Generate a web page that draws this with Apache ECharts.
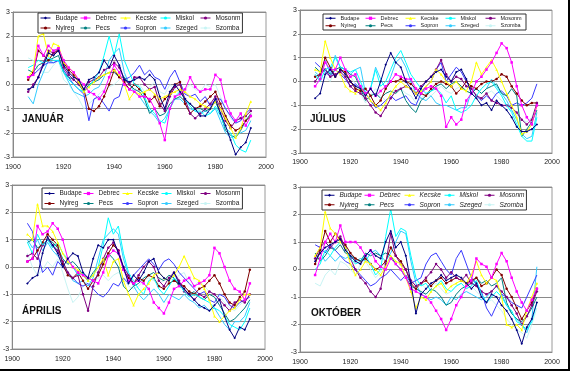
<!DOCTYPE html>
<html><head><meta charset="utf-8">
<script src="https://cdn.jsdelivr.net/npm/echarts@6/dist/echarts.min.js"></script>
<style>html,body{margin:0;padding:0;background:#fff}#c{width:570px;height:371px}</style>
</head><body><div id="c"></div>
<script>
const years = [1906,1908,1910,1912,1914,1916,1918,1920,1922,1924,1926,1928,1930,1932,1934,1936,1938,1940,1942,1944,1946,1948,1950,1952,1954,1956,1958,1960,1962,1964,1966,1968,1970,1972,1974,1976,1978,1980,1982,1984,1986,1988,1990,1992,1994];
const stations = ['Budape','Debrec','Kecske','Miskol','Mosonm','Nyireg','Pecs','Sopron','Szeged','Szomba'];
const xTicks = [1900,1920,1940,1960,1980,2000];
const yTicks = [-3,-2,-1,0,1,2,3];
const panelTitles = ['JANUÁR','JÚLIUS','ÁPRILIS','OKTÓBER'];

// JANUÁR
const janBudape = [-0.2,-0.1,0.3,0.8,1.3, 1.2,1.4,0.8,0.5,0.3, 0.2,-0.2,0.2,0.3,0.5, 1.0,0.7,1.2,0.8,0.2, 0.1,0.2,0.3,0.2,0.4, 0.2,-0.5,-1.0,-0.3,0.0, -0.3,-0.6,-0.8,-1.0,-1.3, -1.3,-1.0,-0.6,-1.2,-1.7, -2.3,-2.9,-2.6,-2.4,-1.8];
const janDebrec = [0.3,0.4,1.6,1.2,1.6, 1.4,1.5,1.0,0.7,0.5, 0.2,0.0,-0.3,-0.4,-0.6, -0.3,0.3,0.8,0.5,0.0, -0.2,-0.3,-0.5,-0.5,-0.6, -1.0,-1.6,-2.3,-1.0,-0.5, -0.4,-0.2,0.3,-0.1,-0.3, -0.2,-0.2,0.4,0.2,-0.7, -1.2,-1.5,-1.2,-1.7,-1.3];
const janKecske = [0.3,0.6,2.0,2.1,1.2, 1.7,1.6,0.9,0.7,0.5, 0.1,-0.3,-0.1,0.1,0.3, 0.4,0.5,0.6,0.4,0.0, -0.6,-0.3,-0.4,-0.3,-0.2, -0.4,-0.6,-0.5,-0.4,-0.3, -0.2,-0.3,-0.5,-0.6,-0.8, -0.9,-1.0,-0.7,-1.0,-1.4, -1.8,-2.2,-1.8,-1.2,-0.7];
const janMiskol = [0.7,0.8,1.0,0.9,1.1, 1.0,1.0,0.5,0.2,0.0, -0.2,-0.3,-0.1,0.2,0.5, 1.2,2.0,1.2,2.1,1.0, 0.5,0.0,-0.1,-0.5,-1.0, -1.2,-1.5,-1.6,-1.0,-0.5, -0.3,-0.6,-0.9,-1.1,-1.1, -1.3,-1.2,-0.9,-1.3,-1.8, -2.0,-2.5,-2.7,-2.8,-2.3];
const janMosonm = [-0.3,0.0,0.3,0.9,1.4, 1.3,1.5,0.7,0.4,0.2, 0.0,-0.2,0.1,0.2,0.3, 0.6,0.7,0.9,0.7,0.2, 0.0,0.3,0.3,0.0,-0.2, -0.1,-0.8,-1.1,-0.5,-0.1, 0.0,-0.6,-1.2,-1.4,-1.2, -1.0,-0.8,-0.5,-1.0,-1.5, -1.8,-1.5,-1.4,-1.3,-1.1];
const janNyireg = [0.2,0.5,1.4,1.2,1.0, 1.3,1.4,0.9,0.6,0.4, 0.1,-0.2,-1.0,-1.1,-0.9, -0.5,0.0,0.6,0.3,0.1, -0.2,0.0,-0.2,-0.4,-0.7, -0.5,-0.9,-0.6,-0.4,0.0, 0.1,-0.8,-1.2,-1.0,-0.9, -0.7,-0.5,-0.3,-0.8,-1.3, -1.7,-1.9,-1.8,-1.5,-1.3];
const janPecs = [0.6,0.5,0.8,0.9,1.0, 1.1,1.2,0.5,0.3,0.2, 0.0,-0.3,0.0,0.1,0.2, 0.4,0.5,0.5,0.3,0.3, 0.0,-0.2,-0.3,-0.6,-1.2, -1.0,-1.3,-1.2,-0.8,-0.6, -0.5,-0.7,-0.8,-1.0,-1.0, -1.1,-1.0,-0.7,-1.2,-1.9, -2.1,-2.2,-1.9,-1.5,-1.2];
const janSopron = [0.3,0.4,0.6,0.8,0.9, 0.9,1.0,0.6,0.3,0.0, -0.2,-0.4,-1.5,-0.6,-0.5, -0.8,-1.1,-0.6,-0.5,0.2, 0.3,0.5,0.8,0.4,0.6, 0.3,0.2,-0.2,0.3,0.6, 0.1,-0.4,-0.5,-0.4,-0.7, -0.5,-0.9,-0.6,-0.6,-1.0, -1.3,-1.6,-1.5,-1.2,-1.0];
const janSzeged = [-0.5,-0.8,0.0,0.5,1.0, 0.9,1.0,0.5,0.1,-0.3, -0.4,-0.5,-0.4,-0.2,-0.1, 0.3,1.0,1.3,1.5,0.5, 0.0,-0.3,-0.5,-0.8,-1.1, -1.3,-1.6,-1.4,-1.0,-0.6, -0.6,-0.8,-1.0,-1.1,-1.2, -1.1,-1.2,-1.0,-1.5,-2.0, -2.2,-2.1,-2.0,-1.9,-1.5];
const janSzomba = [1.1,1.0,0.6,0.5,0.5, 0.8,1.0,0.2,0.0,-0.3, -0.6,-1.0,-0.8,-0.6,-0.4, -0.2,-0.1,0.0,0.2,0.4, 0.0,-0.2,0.0,-0.3,-0.1, 0.1,-0.3,-0.4,0.0,-0.2, -0.4,-0.2,0.0,-0.2,-0.3, 0.0,-0.1,0.0,-0.5,-1.0, -1.4,-1.6,-1.3,-1.4,-1.5];

// JÚLIUS
const julBudape = [-0.7,-0.5,0.3,0.5,0.2, 0.5,0.3,0.0,-0.2,-0.3, -0.6,-0.3,-0.6,0.0,0.7, 1.2,0.8,0.6,0.0,-0.3, -0.7,-0.3,0.0,0.2,0.4, 0.5,0.2,0.0,0.4,0.5, 0.1,-0.5,-0.7,-1.0,-0.9, -1.2,-0.8,-1.0,-1.2,-1.5, -1.9,-2.1,-2.1,-2.0,-1.8];
const julDebrec = [-0.2,0.1,0.8,0.5,0.5, 1.0,0.5,0.2,0.3,-0.2, -0.5,-0.3,-0.6,-0.4,-0.2, 0.0,0.3,0.2,0.1,0.1, -0.3,-0.5,-0.3,-0.2,-0.3, -0.6,-1.9,-1.5,-1.8,-1.6, -0.8,-0.5,0.0,0.2,0.5, 0.8,1.2,1.6,1.4,0.8, -0.2,-1.0,-1.5,-1.8,-1.0];
const julKecske = [0.5,0.4,1.7,1.0,0.5, 0.3,-0.2,-0.4,-0.5,-0.3, -0.5,-0.8,-1.0,-1.2,-0.9, -0.5,-0.2,0.0,-0.2,-0.3, -0.5,-0.4,-0.2,0.0,0.5, 0.3,0.0,-0.2,0.0,-0.3, -0.4,0.0,0.8,0.3,0.6, 0.9,0.5,0.0,-0.5,-1.0, -1.5,-2.2,-2.1,-1.8,-1.0];
const julMiskol = [0.3,0.0,0.5,0.6,1.0, 0.6,0.5,0.4,0.5,0.0, -0.5,-0.3,0.5,-0.2,0.0, 0.5,1.0,1.3,0.8,0.3, 0.0,-0.3,-0.5,-0.4,-0.3, -0.5,-0.9,-0.6,-1.2,-1.3, -1.2,-1.0,-0.6,-0.3,-0.1, 0.0,-0.3,-0.6,-1.0,-1.3, -1.8,-2.3,-2.5,-2.5,-1.5];
const julMosonm = [0.0,0.3,0.5,0.2,0.3, 0.4,0.2,-0.2,-0.4,-0.5, -0.7,-1.0,-1.3,-1.45,-1.1, -0.7,-0.4,-0.3,-0.2,-0.3, -0.5,-0.2,0.0,0.2,0.5, 0.9,0.3,0.0,0.2,0.1, -0.2,-0.3,-0.6,-0.7,-0.5, -0.8,-0.9,-1.0,-1.0,-1.1, -1.3,-1.6,-1.8,-1.6,-0.9];
const julNyireg = [0.2,0.3,1.0,0.6,0.2, 0.5,0.4,0.0,-0.3,-0.4, -0.3,-0.6,-1.0,-0.8,-0.3, 0.0,0.0,0.1,0.0,-0.1, -0.3,-0.5,-0.6,-0.3,-0.1, 0.0,-0.1,-0.2,-0.5,-0.3, 0.0,-0.2,-0.3,-0.1,0.0, 0.0,0.1,0.3,0.2,-0.2, -0.5,-0.8,-1.0,-0.9,-0.9];
const julPecs = [0.6,0.4,0.5,0.3,0.5, 0.6,0.5,0.3,0.2,-0.3, -0.8,-0.6,-0.5,-0.7,-0.5, -0.4,-0.5,-0.3,-0.8,-1.1, -1.3,-0.8,-0.6,-0.4,-0.2, -0.1,-0.3,-0.1,0.0,-0.2, -0.4,-0.5,-0.3,-0.5,-0.3, -0.2,-0.1,-0.5,-0.6,-0.3, -0.6,-2.3,-2.0,-1.7,-1.2];
const julSopron = [0.8,0.6,0.4,0.2,0.5, 0.3,0.1,-0.2,-0.1,-0.3, -0.5,-0.8,-1.1,-1.0,-0.8, -0.6,-0.8,-0.7,-0.6,-0.9, -1.0,-0.5,-0.2,0.0,0.5, 0.8,0.0,0.3,0.6,0.4, 0.0,-0.3,-0.6,-0.8,-0.6, -0.8,-0.5,-0.4,-0.6,-1.0, -0.9,-1.0,-0.9,-0.7,-0.1];
const julSzeged = [0.4,0.2,0.9,0.3,1.1, 0.6,0.5,0.3,0.5,0.6, -0.5,-0.3,0.6,0.1,-0.3, 0.2,0.8,1.0,0.6,0.0, -0.5,-0.7,-0.8,-0.6,-0.9, -1.0,-1.0,-1.1,-1.2,-1.1, -1.1,-0.4,-0.3,-0.5,-0.3, 0.1,-0.2,-0.5,-0.8,-1.2, -1.6,-2.2,-2.4,-2.3,-1.3];
const julSzomba = [0.3,0.1,0.2,0.0,0.6, 0.3,0.2,0.2,-0.1,-0.5, -0.9,-0.6,-0.3,-0.6,-0.8, -0.7,-0.4,-0.3,-0.5,-0.6, -0.9,-0.7,-0.5,-0.6,-0.4, -0.2,-0.4,-0.5,-0.3,-0.2, -0.4,-0.5,-0.6,-0.8,-0.5, -0.4,-0.6,-0.8,-1.0,-1.2, -1.4,-1.6,-1.7,-1.5,-1.0];

// ÁPRILIS
const aprBudape = [-0.6,-0.4,-0.3,0.5,1.1, 0.8,0.5,0.0,0.3,0.5, 0.4,-0.2,-0.4,0.3,0.8, 0.7,1.0,1.0,0.5,0.0, -0.6,-0.3,-0.5,-0.2,0.2, 0.3,-0.2,-0.4,-0.5,-0.2, -0.6,-0.8,-1.0,-1.2,-1.4, -1.5,-1.6,-1.4,-1.2,-1.8, -2.3,-2.6,-2.2,-2.3,-1.9];
const aprDebrec = [0.2,0.3,1.5,1.2,1.3, 1.6,1.4,1.0,0.3,0.0, -0.2,-0.3,-0.4,-0.5,-0.6, -0.2,0.4,0.6,0.5,-0.1, -0.5,-0.6,-0.5,-0.6,-0.8, -1.3,-1.5,-1.7,-1.3,-0.8, -0.7,-0.5,-0.4,-0.7,-0.6, -0.5,-0.3,0.7,0.5,0.0, -0.5,-0.8,-0.9,-1.2,-0.6];
const aprKecske = [1.2,1.0,2.3,1.5,1.5, 1.3,0.9,0.5,0.2,0.0, -0.1,-0.3,-0.5,-0.3,0.0, 0.3,-0.3,0.2,0.3,-0.5, -1.0,-1.4,-1.0,-0.8,-0.6, -0.3,-0.2,-0.4,-0.5,-0.3, 0.0,0.4,0.0,-0.4,-0.5, -0.8,-1.2,-1.8,-2.0,-1.8, -1.6,-1.5,-1.2,-1.0,-1.0];
const aprMiskol = [0.9,0.5,1.2,0.8,1.0, 0.7,0.9,0.5,0.3,0.0, -0.3,-0.2,-0.5,-0.3,0.0, 0.8,1.8,1.2,1.5,0.5, -0.2,-0.5,-0.8,-1.0,-0.5, -0.4,-0.8,-1.0,-0.7,-0.4, -0.6,-0.9,-1.1,-1.0,-1.1, -1.2,-1.3,-1.5,-1.6,-1.8, -2.1,-2.2,-2.3,-2.0,-1.5];
const aprMosonm = [0.4,0.5,0.3,0.8,1.0, 0.8,0.6,0.2,-0.2,-0.4, -0.3,-1.0,-1.6,-0.7,-0.2, 0.3,0.7,0.9,0.6,0.0, -0.3,-0.6,-0.3,0.0,0.2, 0.0,-0.5,-0.7,-0.4,-0.2, -0.5,-0.9,-1.0,-1.2,-1.0, -1.1,-0.9,-1.0,-1.2,-1.4, -1.6,-1.3,-1.2,-1.3,-1.0];
const aprNyireg = [0.2,0.3,0.6,0.9,1.2, 1.0,0.8,0.1,-0.3,-0.4, -0.2,-0.5,-0.8,-0.5,-0.3, 0.1,0.5,0.8,0.6,-0.1, -0.4,-0.6,-0.4,-0.5,-0.3, -0.4,-0.7,-0.8,-0.6,-0.5, -0.6,-0.7,-0.9,-1.0,-0.8, -0.7,-0.5,-0.3,-0.6,-1.0, -1.3,-1.4,-1.1,-0.9,-0.1];
const aprPecs = [0.9,1.0,0.7,0.8,1.0, 0.9,0.7,0.3,0.1,0.2, 0.0,-0.3,-0.5,-0.2,0.0, 0.2,0.5,0.3,0.0,-0.7, -0.9,-0.7,-0.6,-0.4,-0.3, -0.2,-0.4,-0.5,-0.3,-0.4, -0.7,-0.8,-1.0,-0.9,-1.1, -1.2,-1.0,-1.1,-1.4,-1.7, -2.0,-1.9,-1.7,-1.5,-1.2];
const aprSopron = [1.6,1.3,0.5,-0.2,0.0, -0.3,0.2,0.0,-0.2,-0.4, -0.6,-0.7,-0.6,-0.8,-1.0, -1.1,-0.9,-0.6,-0.7,-0.4, -0.6,-0.3,-0.1,0.1,0.3, 0.1,-0.1,0.2,0.3,0.1, -0.2,-0.4,-0.6,-0.8,-1.0, -0.9,-1.2,-1.3,-1.0,-1.1, -1.4,-1.5,-1.3,-1.2,-1.1];
const aprSzeged = [1.0,0.7,1.0,0.6,0.9, 0.6,0.4,0.2,-0.2,-0.5, -0.6,-0.5,-0.7,-0.4,0.3, 1.0,1.2,1.4,1.2,0.3, -0.3,-0.7,-1.0,-1.2,-1.0, -0.8,-1.0,-1.3,-1.0,-1.1, -1.2,-1.0,-1.2,-1.3,-1.5, -1.4,-1.6,-1.5,-1.8,-2.1, -2.3,-2.0,-2.0,-1.8,-1.3];
const aprSzomba = [0.5,0.0,-0.3,-0.1,0.2, 0.0,0.3,-0.2,-0.8,-1.3, -1.1,-0.7,-0.5,-0.6,-0.4, -0.3,-0.5,-0.3,-0.2,-0.4, -0.7,-0.8,-0.7,-0.5,-0.4, -0.5,-0.6,-0.5,-0.4,-0.5, -0.3,-0.2,-0.6,-0.7,-0.5, -0.7,-0.9,-1.0,-1.1,-1.3, -1.5,-1.6,-1.4,-1.2,-1.0];

// OKTÓBER
const oktBudape = [0.3,0.6,0.8,0.9,1.0, 1.1,0.7,0.5,0.3,0.2, 0.5,0.7,0.5,0.4,1.0, 1.4,0.8,1.0,0.5,-0.5, -1.6,-0.9,-0.7,-0.5,-0.4, -0.2,-0.4,-0.3,-0.2,-0.3, -0.5,-0.7,-0.5,-1.0,-1.2, -0.9,-1.0,-1.3,-1.5,-1.8, -2.2,-2.7,-2.1,-1.8,-1.2];
const oktDebrec = [-0.2,0.4,1.0,1.3,1.0, 1.6,1.0,1.0,1.0,0.8, 0.5,0.7,0.3,0.1,0.0, 0.4,0.2,0.0,-0.3,-0.7, -0.8,-0.9,-1.0,-1.2,-1.5, -1.8,-2.2,-1.8,-1.3,-1.0, -0.6,-0.4,0.4,0.2,0.1, -0.3,0.2,0.6,0.3,-0.3, -0.8,-1.2,-1.5,-1.1,-0.7];
const oktKecske = [0.5,0.8,2.1,1.5,1.3, 1.0,0.8,0.2,-0.2,0.0, 0.3,0.2,0.0,-0.2,0.1, 0.5,0.3,0.2,-0.3,-0.8, -1.4,-1.0,-1.1,-0.8,-0.6, -0.5,-0.8,-0.6,-0.5,-0.4, -0.5,-0.2,0.3,-0.2,-0.5, -0.3,-0.4,-1.0,-2.0,-2.1, -2.0,-2.2,-1.5,-1.0,-0.5];
const oktMiskol = [0.0,0.2,0.7,0.5,0.8, 1.0,0.8,0.4,0.2,0.3, 0.5,0.2,-0.2,0.0,1.2, 2.2,1.2,1.5,1.4,0.5, -0.3,-0.6,-0.5,-0.8,-0.6, -0.4,-0.7,-0.8,-0.6,-0.5, -0.7,-0.6,-0.4,-0.9,-1.2, -1.0,-0.8,-1.0,-1.3,-1.5, -1.9,-2.0,-2.2,-1.9,-1.2];
const oktMosonm = [0.4,0.8,1.0,0.8,1.0, 1.2,0.8,0.4,0.0,-0.3, -0.5,-0.8,-1.0,-0.7,0.2, 1.3,0.5,0.2,0.0,-0.4, -0.6,-0.5,-0.3,-0.1,0.2, 0.0,-0.3,-0.1,-0.3,-0.4, -0.2,-0.5,-0.6,-0.8,-0.9, -0.8,-0.6,-0.8,-1.0,-1.3, -1.6,-2.0,-1.7,-1.3,-0.8];
const oktNyireg = [0.2,0.7,1.4,1.0,1.3, 1.1,0.9,0.6,0.4,0.3, 0.4,0.2,0.0,0.1,0.3, 0.8,0.5,0.3,0.0,-0.5, -0.7,-0.5,-0.4,-0.6,-0.4, -0.3,-0.5,-0.4,-0.3,-0.4, -0.5,-0.4,-0.3,-0.6,-0.5, -0.3,0.0,-0.2,-0.7,-1.0, -1.4,-1.8,-1.5,-1.2,-0.7];
const oktPecs = [0.6,0.3,0.5,0.8,0.7, 0.9,0.6,0.5,0.4,0.3, 0.6,0.5,0.6,0.5,0.6, 0.5,0.2,0.0,-0.3,-0.6, -0.7,-0.8,-0.9,-0.7,-0.8, -1.0,-1.3,-1.2,-0.9,-0.7, -0.6,-0.5,-0.3,-0.5,-0.4, -0.6,-0.5,-0.3,-1.2,-1.6, -1.8,-1.9,-1.7,-1.4,-1.0];
const oktSopron = [0.9,0.8,0.6,0.9,0.7, 0.5,0.3,0.2,0.0,-0.2, -0.4,-0.6,-0.5,-0.3,-0.2, 0.0,-0.2,-0.4,-0.2,-0.5, -0.4,-0.3,0.2,0.5,0.6, 0.3,0.0,-0.2,0.4,0.7, 0.2,-0.3,-0.5,-0.8,-1.4, -1.7,-1.3,-0.9,-1.0,-1.2, -1.3,-1.4,-1.0,-0.6,-0.2];
const oktSzeged = [0.4,0.6,0.3,0.5,0.3, 0.5,0.4,0.5,0.3,0.4, 0.3,0.6,0.7,0.5,0.3, 0.6,1.0,1.4,1.3,0.3, -0.5,-0.9,-1.0,-1.1,-1.0, -1.1,-1.3,-1.0,-1.1,-0.9, -0.8,-0.9,-1.0,-1.1,-1.0, -0.8,-0.6,-0.9,-1.3,-1.6, -1.8,-2.0,-2.3,-1.8,0.1];
const oktSzomba = [-0.5,-0.6,-0.2,0.0,-0.2, 0.3,0.2,0.0,-0.2,0.2, 0.3,0.0,-0.3,-0.1,0.2, 0.5,0.2,0.0,-0.2,-0.4, -0.6,-0.5,-0.7,-0.6,-0.5, -0.7,-0.9,-0.8,-0.6,-0.5, -0.7,-0.6,-0.8,-1.0,-1.2, -1.1,-1.3,-1.5,-1.8,-2.0, -2.2,-2.3,-2.5,-2.0,-1.4];

const panels = [
  [janBudape,janDebrec,janKecske,janMiskol,janMosonm,janNyireg,janPecs,janSopron,janSzeged,janSzomba],
  [julBudape,julDebrec,julKecske,julMiskol,julMosonm,julNyireg,julPecs,julSopron,julSzeged,julSzomba],
  [aprBudape,aprDebrec,aprKecske,aprMiskol,aprMosonm,aprNyireg,aprPecs,aprSopron,aprSzeged,aprSzomba],
  [oktBudape,oktDebrec,oktKecske,oktMiskol,oktMosonm,oktNyireg,oktPecs,oktSopron,oktSzeged,oktSzomba]
];

// styles (not data)
const colors = ['#000080','#ff00ff','#ffff00','#00ffff','#800080','#800000','#008080','#3a3aff','#33ccff','#c8f4f4'];
const symbols = ['diamond','rect','triangle','none','circle','circle','none','none','none','none'];
const FONT = 'Liberation Sans, Arial, sans-serif';
const grids = [
  {left:13, top:12, width:253, height:145},
  {left:300, top:10, width:252, height:143},
  {left:12, top:185, width:253, height:164},
  {left:300, top:187, width:252, height:165}
];
const labelMargins = [7,6,7,7];
const legends = [
  {left:38, top:13, gap:2, lh:8, fs:6.5, tw:22.5, italic:false},
  {left:323, top:14, gap:1, lh:6.5, fs:5.5, tw:23.5, italic:false},
  {left:42, top:188, gap:1, lh:9, fs:6.5, tw:22.5, italic:false},
  {left:322, top:190, gap:1, lh:8.5, fs:6.5, tw:23.5, italic:true}
];
const titlePos = [[22,114],[310,114],[22,306],[311,308]];
const legendData = stations.slice(0,5).concat([''], stations.slice(5));

const xAxis = [], yAxis = [], series = [], legend = [], title = [];
grids.forEach((g,p) => {
  xAxis.push({type:'value', gridIndex:p, min:xTicks[0], max:xTicks[xTicks.length-1], interval:20,
    axisLine:{show:true, onZero:false, lineStyle:{color:'#888', width:1}}, axisTick:{show:false},
    splitLine:{show:false},
    axisLabel:{fontSize:7, color:'#222', fontFamily:FONT, margin:labelMargins[p], formatter: v => String(v)}});
  yAxis.push({type:'value', gridIndex:p, min:yTicks[0], max:yTicks[yTicks.length-1], interval:1,
    axisLine:{show:true, lineStyle:{color:'#888', width:1}}, axisTick:{show:true, length:2, lineStyle:{color:'#888'}},
    splitLine:{show:true, lineStyle:{color:'#8a8a8a', width:1}},
    axisLabel:{fontSize:7, color:'#222', fontFamily:FONT, margin:3}});
  panels[p].forEach((arr, s) => {
    series.push({type:'line', name:stations[s], xAxisIndex:p, yAxisIndex:p,
      data: years.map((y,i) => [y, arr[i]]),
      symbol: symbols[s], symbolSize: 2.5, showSymbol: symbols[s] !== 'none',
      lineStyle:{width:1, color:colors[s]}, itemStyle:{color:colors[s]},
      emphasis:{disabled:true}, z: 2 + (9 - s) * 0.01});
  });
  const L = legends[p];
  legend.push({left:L.left, top:L.top, width:400, orient:'horizontal', itemWidth:10, itemHeight:4,
    itemGap:L.gap, padding:[1,2,1,2], borderColor:'#333', borderWidth:1, backgroundColor:'#fff',
    selectedMode:false, data:legendData,
    itemStyle:{borderWidth:0}, lineStyle:{width:1},
    textStyle:{fontSize:L.fs, fontFamily:FONT, color:'#222', width:L.tw, lineHeight:L.lh,
      fontStyle: L.italic ? 'italic' : 'normal'}});
  title.push({text:panelTitles[p], left:titlePos[p][0], top:titlePos[p][1], padding:0,
    textStyle:{fontSize:10, fontWeight:'bold', color:'#111', fontFamily:FONT}});
});

const chart = echarts.init(document.getElementById('c'), null, {renderer:'canvas'});
chart.setOption({
  animation:false, backgroundColor:'#fff',
  title, legend,
  grid: grids.map(g => Object.assign({show:true, borderColor:'#9a9a9a', borderWidth:1, backgroundColor:'#fff'}, g)),
  xAxis, yAxis, series,
  graphic:[
    {type:'line', shape:{x1:0,y1:370,x2:570,y2:370}, style:{stroke:'#000', lineWidth:2}},
    {type:'line', shape:{x1:569,y1:0,x2:569,y2:371}, style:{stroke:'#000', lineWidth:2}}
  ]
});
</script>
</body></html>
